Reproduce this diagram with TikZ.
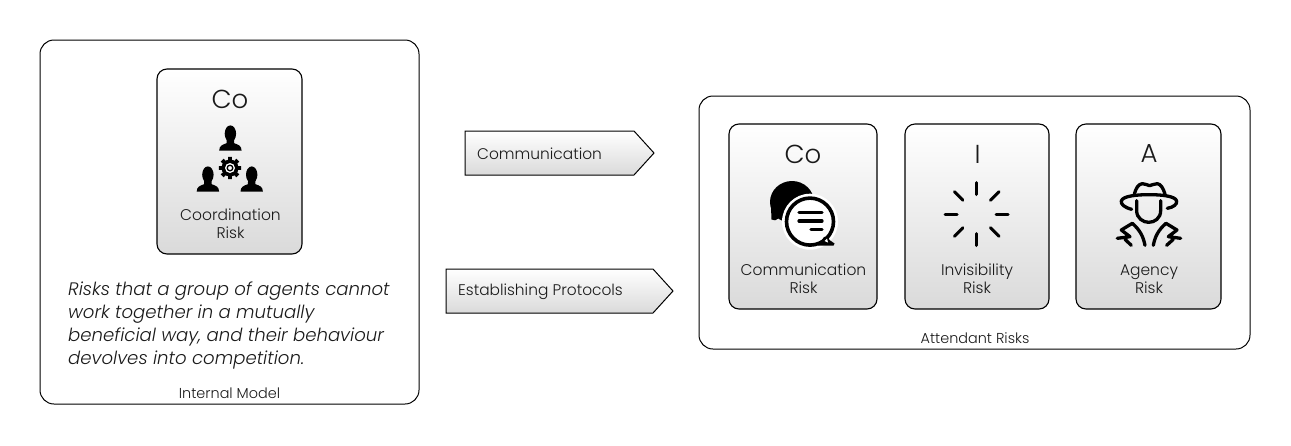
\documentclass[tikz,border=0pt]{standalone}
\usepackage{fontspec}
\setmainfont{Poppins}[UprightFont=* Light,ItalicFont=* Light Italic,BoldFont=* Medium]
\usetikzlibrary{calc}
\definecolor{cardbot}{HTML}{DADADA}
\definecolor{ink}{HTML}{1A1A1A}
\tikzset{
  cardbox/.style={draw=black,line width=1.1pt,rounded corners=10pt,top color=white,bottom color=cardbot},
  letter/.style={font=\fontsize{26}{26}\selectfont,text=ink,inner sep=0pt},
  cardlabel/.style={font=\fontsize{15.5}{18}\selectfont,text=ink,align=center,inner sep=0pt},
  arrowlabel/.style={font=\fontsize{15.4}{17}\selectfont,text=ink,anchor=west,inner sep=0pt},
  caption/.style={font=\fontsize{14.4}{15}\selectfont,text=ink,inner sep=0pt},
  arrowbox/.style={draw=black,line width=1pt,top color=white,bottom color=cardbot},
  iconline/.style={draw=black,line cap=round,line join=round,fill=none},
  person/.pic={
    \fill[black] (0,-17) ellipse (5.7 and 8.3);
    \fill[black] (-3.6,-12) -- (3.6,-12) -- (3.8,-7.5) .. controls (8,-6) and (11.2,-5) .. (11.2,0) -- (-11.2,0) .. controls (-11.2,-5) and (-8,-6) .. (-3.8,-7.5) -- cycle;
  }
}
\begin{document}
\begin{tikzpicture}[x=1pt,y=-1pt]
\useasboundingbox (0,0) rectangle (1291,445);
% outer boxes
\draw[draw=black,line width=1pt,rounded corners=14pt] (40,40) rectangle (419,404);
\draw[draw=black,line width=1pt,rounded corners=14pt] (699,96) rectangle (1250,349);
% cards
\draw[cardbox] (157,69) rectangle (302,254);
\draw[cardbox] (729,124) rectangle (877,309);
\draw[cardbox] (905,124) rectangle (1049,309);
\draw[cardbox] (1076,124) rectangle (1221,309);
% arrows
\draw[arrowbox] (465,131) -- (634,131) -- (654,153) -- (634,175) -- (465,175) -- cycle;
\draw[arrowbox] (446,269) -- (653,269) -- (673,291) -- (653,313) -- (446,313) -- cycle;
\node[arrowlabel] (acomm) at (477,154) {Communication};
\node[arrowlabel] (aprot) at (458,292) {Establishing Protocols};
% texts left
\node[letter] (lco) at (230,99) {Co};
\node[cardlabel] (lcoord) at (230.5,224) {Coordination\\Risk};
\node[anchor=north west,inner sep=0pt,align=left,font=\fontsize{18.1}{22.7}\selectfont\itshape,text=ink] (desc) at (68,282) {Risks that a group of agents cannot\\work together in a mutually\\beneficial way, and their behaviour\\devolves into competition.};
\node[caption] (capint) at (229.5,393) {Internal Model};
\node[caption] (capatt) at (975,338) {Attendant Risks};
% right labels
\node[letter] (rco) at (803,154) {Co};
\node[cardlabel] (rcomm) at (803.5,279) {Communication\\Risk};
\node[letter] (ri) at (977.5,154) {I};
\node[cardlabel] (rinv) at (977,279) {Invisibility\\Risk};
\node[letter] (ra) at (1149,154) {A};
\node[cardlabel] (rag) at (1149,279) {Agency\\Risk};
% coordination icon
\pic at (230.4,150.7) {person};
\pic at (207.9,191.7) {person};
\pic at (251.7,191.7) {person};
\foreach \a in {0,45,...,315}{
  \fill[black] ($(230,168)+(\a-15:7.5)$) -- ($(230,168)+(\a-10:11.3)$) -- ($(230,168)+(\a+10:11.3)$) -- ($(230,168)+(\a+15:7.5)$) -- cycle;
}
\fill[black] (230,168) circle (8.5);
\fill[white] (230,168) circle (5);
\draw[black,line width=1.3pt] (230,168) circle (2.8);
% communication icon
\fill[black] (792,202) ellipse (22 and 21);
\fill[black] (771,207) -- (771.5,219.5) -- (775,220.3) -- (783,216) -- cycle;
\fill[white] (810,221.7) circle (28);
\draw[black,line width=3.6pt] (810,221.6) circle (23.5);
\fill[black] (824,237) -- (828,236) -- (829.5,240) -- (834.5,243.5) -- (833.5,245.7) -- (818,245.7) -- cycle;
\fill[white] (824.5,241) -- (827,238.5) -- (828,242.5) -- cycle;
\draw[iconline,line width=3.2pt] (799,212.7) -- (822,212.7) (799,221) -- (822,221) (811,229.3) -- (822,229.3);
% invisibility icon
\foreach \a in {0,45,...,315}{
  \draw[iconline,line width=3pt] ($(976.7,214)+(\a:19.5)$) -- ($(976.7,214)+(\a:31.5)$);
}
% agency icon
\begin{scope}[shift={(900,120)},x=0.3333pt,y=-0.3333pt,iconline,line width=3.3pt]
\draw (695,268) .. controls (672,262) and (662,252) .. (664,243) .. controls (668,228) and (710,224) .. (747,224) .. controls (785,224) and (826,228) .. (830,243) .. controls (832,253) and (820,262) .. (802,265);
\draw (703,222) .. controls (708,205) and (715,192) .. (727,191) .. controls (737,190) and (742,197) .. (749,197) .. controls (756,197) and (762,190) .. (772,191) .. controls (782,192) and (790,205) .. (795,222);
\draw (710,242) -- (710,272) .. controls (710,295) and (730,307) .. (746,307) .. controls (764,307) and (782,295) .. (782,272) -- (782,242);
\draw (735,376) .. controls (730,350) and (720,330) .. (697,310) -- (664,330) -- (690,350) -- (652,355);
\draw (682,347) -- (675,358) -- (694,376);
\draw (760,376) .. controls (765,350) and (775,330) .. (798,310) -- (831,330) -- (805,350) -- (842,355);
\draw (812,347) -- (820,358) -- (800,376);
\end{scope}
\end{tikzpicture}
\end{document}
